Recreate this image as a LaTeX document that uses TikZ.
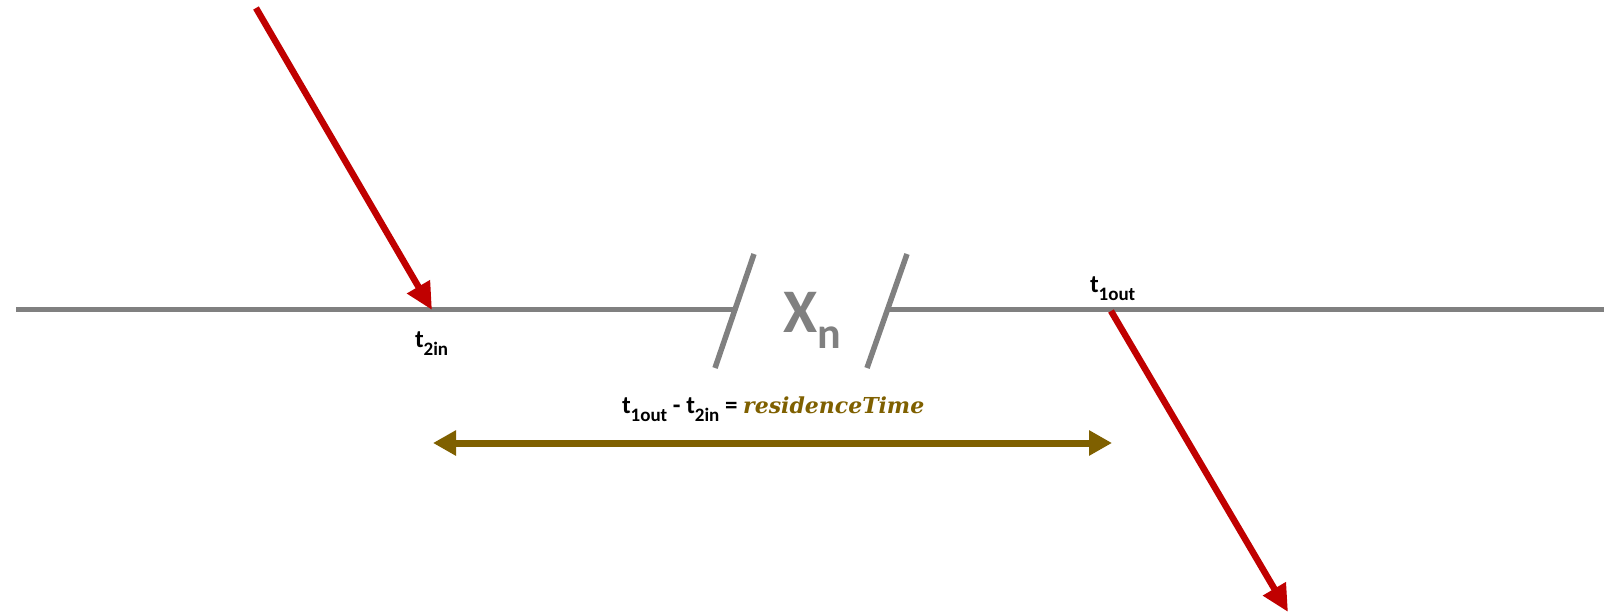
\documentclass[tikz,border=0pt]{standalone}
\usepackage{fontspec}
\setmainfont{Carlito}
\newfontfamily\resfont{DejaVu Serif}
\usetikzlibrary{arrows.meta}
\definecolor{arrowred}{HTML}{C00000}
\definecolor{linegray}{HTML}{808080}
\definecolor{olivebrown}{HTML}{7F6000}
\newcommand{\tlab}[1]{{\fontsize{25}{25}\selectfont\bfseries t\raisebox{-8pt}{\fontsize{19}{19}\selectfont #1}}}
\begin{document}
\begin{tikzpicture}[x=1pt,y=-1pt,
  flowline/.style={draw=arrowred,line width=6.5pt,-{Triangle[length=27pt,width=25pt]}},
  grayline/.style={draw=linegray,line width=5.5pt},
  spanarrow/.style={draw=olivebrown,line width=7pt,{Triangle[length=23pt,width=24pt]}-{Triangle[length=23pt,width=24pt]}},
  lbl/.style={inner sep=0pt,outer sep=0pt}]
\useasboundingbox (0,0) rectangle (1609,613);
% gray time line with break
\coordinate (l0) at (16,309.5);
\coordinate (l1) at (735,309.5);
\coordinate (r0) at (888,309.5);
\coordinate (r1) at (1604,309.5);
\coordinate (s1a) at (754,254);
\coordinate (s1b) at (715,368);
\coordinate (s2a) at (907,254);
\coordinate (s2b) at (867,368);
\draw[grayline] (l0) -- (l1);
\draw[grayline] (r0) -- (r1);
\draw[grayline] (s1a) -- (s1b);
\draw[grayline] (s2a) -- (s2b);
\node[lbl,anchor=base west,text=linegray] (xn) at (783,332)
  {\fontsize{62}{62}\selectfont\bfseries X\raisebox{-16pt}{\fontsize{44}{44}\selectfont n}};
% red arrows
\coordinate (inStart) at (256,8);
\coordinate (inEnd) at (432,310);
\coordinate (outStart) at (1111,311);
\coordinate (outEnd) at (1288,612);
\draw[flowline] (inStart) -- (inEnd);
\draw[flowline] (outStart) -- (outEnd);
% labels
\node[lbl,anchor=base west] (t2in) at (415,347) {\tlab{2in}};
\node[lbl,anchor=base west] (t1out) at (1090,292) {\tlab{1out}};
\node[lbl,anchor=base west] (formula) at (622,413)
  {\tlab{1out}\fontsize{25}{25}\selectfont\bfseries{} - \tlab{2in} = \textcolor{olivebrown}{\resfont\itshape\fontsize{22}{22}\selectfont residenceTime}};
% residence time span
\coordinate (spanL) at (433,443);
\coordinate (spanR) at (1112,443);
\draw[spanarrow] (spanL) -- (spanR);
\end{tikzpicture}
\end{document}
